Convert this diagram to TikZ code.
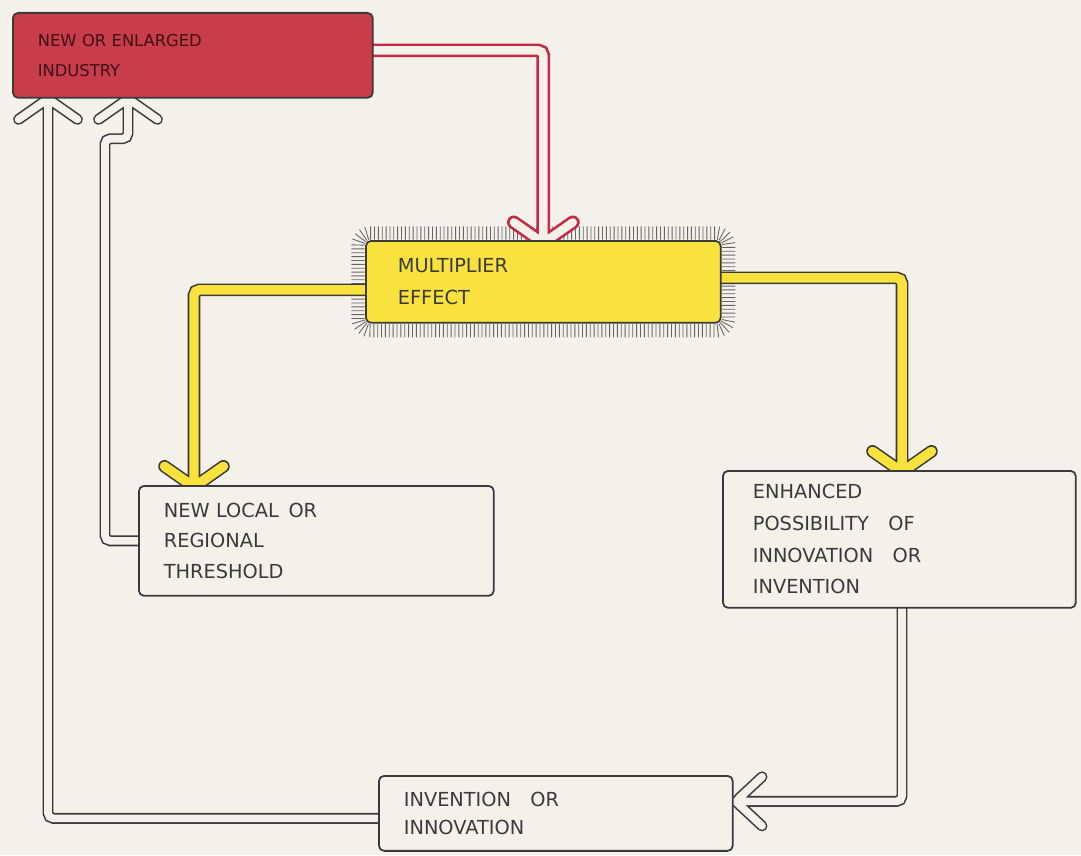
\documentclass[tikz,border=0pt]{standalone}
\usepackage{fontspec}
\setsansfont{DejaVu Sans}
\usetikzlibrary{decorations.pathreplacing}
\definecolor{paper}{RGB}{243,241,234}
\definecolor{indred}{RGB}{201,60,74}
\definecolor{pipered}{RGB}{196,42,68}
\definecolor{ylw}{RGB}{250,226,62}
\definecolor{ink}{RGB}{58,58,58}
\pgfdeclarelayer{paper}
\pgfdeclarelayer{pipes}
\pgfsetlayers{paper,pipes,main}
\tikzset{
  box/.style={draw=ink, line width=1pt, rounded corners=3pt, anchor=north west,
    align=left, inner xsep=0.5cm, text=ink,
    font=\sffamily\fontsize{11}{17.5}\selectfont},
  pipe/.style={draw=ink, line width=0.9pt, double=paper, double distance=4.4pt,
    rounded corners=3pt, line cap=round},
  ylwpipe/.style={pipe, double=ylw, double distance=5.4pt},
  redpipe/.style={pipe, draw=pipered, line width=1.5pt, double distance=4.8pt},
  fuzz/.style={draw=black!60, line width=0.5pt, rounded corners=7pt, decorate,
    decoration={ticks, segment length=2.2pt, amplitude=3.8pt}}
}
\begin{document}
\begin{tikzpicture}[x=0.02cm, y=-0.02cm]
\useasboundingbox (0,0) rectangle (1081,855);
\begin{pgfonlayer}{paper}
\fill[paper] (0,0) rectangle (1081,855);
\end{pgfonlayer}

\node[box, fill=indred, text width=6.2cm, minimum height=1.7cm, text=black!70!indred,
  font=\sffamily\fontsize{9.3}{17}\selectfont] (industry) at (12,12) {NEW OR ENLARGED\\INDUSTRY};
\node[box, fill=ylw, text width=5.82cm, inner xsep=0.64cm, minimum height=1.64cm,
  font=\sffamily\fontsize{11}{18}\selectfont] (multi) at (365,240) {MULTIPLIER\\EFFECT};
\node[box, fill=paper, text width=6.1cm, minimum height=2.2cm] (local) at (138,485) {NEW LOCAL\enspace OR\\REGIONAL\\THRESHOLD};
\node[box, fill=paper, text width=5.86cm, inner xsep=0.6cm, minimum height=2.74cm,
  font=\sffamily\fontsize{11}{18}\selectfont] (enh) at (722,470) {ENHANCED\\POSSIBILITY\quad OF\\INNOVATION\quad OR\\INVENTION};
\node[box, fill=paper, text width=6.08cm, minimum height=1.5cm,
  font=\sffamily\fontsize{11}{15.5}\selectfont] (inv) at (378,775) {INVENTION\quad OR\\INNOVATION};

\begin{pgfonlayer}{pipes}
\draw[fuzz] ([shift={(-7,7)}]multi.south west) rectangle ([shift={(7,-7)}]multi.north east);

\draw[redpipe] ([shift={(0,-5)}]industry.east) -| ([shift={(0,3)}]multi.north) coordinate (t1)
  -- ++(215:36) (t1) -- ++(325:36);
\draw[ylwpipe] ([shift={(0,8)}]multi.west) -| ([shift={(56,2)}]local.north west) coordinate (t2)
  -- ++(215:36) (t2) -- ++(325:36);
\draw[ylwpipe] ([shift={(0,-4)}]multi.east) -| ([shift={(180,2)}]enh.north west) coordinate (t3)
  -- ++(215:36) (t3) -- ++(325:36);
\draw[pipe] ([shift={(180,0)}]enh.south west) |- ([shift={(2,-12)}]inv.east) coordinate (t4)
  -- ++(-43:36) (t4) -- ++(43:36);
\draw[pipe] ([shift={(0,5)}]inv.west) -| ([shift={(36,0)}]industry.south west) coordinate (t5)
  -- ++(35:36) (t5) -- ++(145:36);
\draw[pipe] (local.west) -- ++(-33,0) |- ([shift={(116,40)}]industry.south west)
  -- ([shift={(116,0)}]industry.south west) coordinate (t6) -- ++(35:36) (t6) -- ++(145:36);
\end{pgfonlayer}
\end{tikzpicture}
\end{document}
